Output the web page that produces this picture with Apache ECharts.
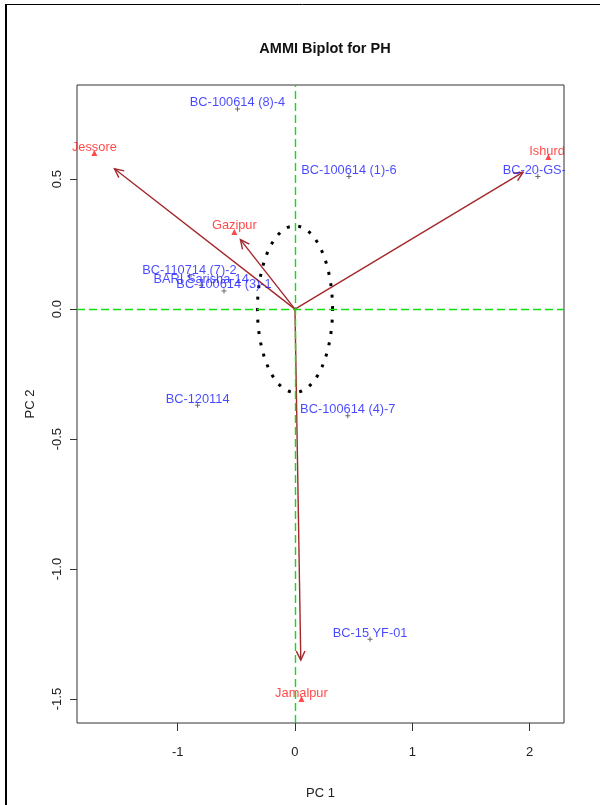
<!DOCTYPE html>
<html>
<head>
<meta charset="utf-8">
<title>AMMI Biplot for PH</title>
<script src="https://cdn.jsdelivr.net/npm/echarts@6/dist/echarts.min.js"></script>
<style>
  html, body { margin: 0; padding: 0; background: #fff; }
  #chart { width: 601px; height: 805px; }
</style>
</head>
<body>
<div id="chart"></div>
<script>
// Genotype scores on the first two interaction principal components
const genotypes = ['BC-100614 (8)-4', 'BC-100614 (1)-6', 'BC-20-GS-1', 'BC-110714 (7)-2',
  'BARI Sarisha-14', 'BC-100614 (3)-1', 'BC-120114', 'BC-100614 (4)-7', 'BC-15 YF-01'];
const genoPC1 = [-0.49, 0.46, 2.07, -0.90, -0.80, -0.605, -0.83, 0.45, 0.64];
const genoPC2 = [0.77, 0.51, 0.51, 0.127, 0.092, 0.07, -0.37, -0.41, -1.27];

// Environment scores
const environments = ['Jessore', 'Ishurdi', 'Gazipur', 'Jamalpur'];
const envPC1 = [-1.71, 2.16, -0.517, 0.055];
const envPC2 = [0.60, 0.585, 0.297, -1.50];

// Axis ticks
const xTicks = [-1, 0, 1, 2];
const yTicks = [-1.5, -1.0, -0.5, 0.0, 0.5];

// Arrows are drawn to this fraction of each environment vector
const arrowScale = 0.9;
// Radius of the dotted reference circle around the origin
const circleRadius = 0.32;

const FONT = '"Liberation Sans", Arial, sans-serif';
const BLUE = '#1c1cff';
const RED = '#ff1a1a';
const BROWN = '#a3282c';
const GREEN = '#11dd11';

const chart = echarts.init(document.getElementById('chart'), null, { renderer: 'canvas' });

const genoData = genotypes.map((g, i) => ({ name: g, value: [genoPC1[i], genoPC2[i]] }));
const envData = environments.map((e, i) => ({ name: e, value: [envPC1[i], envPC2[i]] }));

const plusSymbol = 'path://M2,0H3V2H5V3H3V5H2V3H0V2H2Z';

chart.setOption({
  animation: false,
  backgroundColor: '#fff',
  title: {
    text: 'AMMI Biplot for PH',
    left: 320, top: 36, textAlign: 'center',
    textStyle: { fontFamily: FONT, fontSize: 14.5, fontWeight: 'bold', color: '#111' }
  },
  grid: {
    left: 77, right: 37, top: 85, bottom: 82,
    show: true, borderColor: '#333', borderWidth: 1, backgroundColor: 'transparent'
  },
  xAxis: {
    type: 'value', min: -1.858, max: 2.293,
    name: 'PC 1', nameLocation: 'middle', nameGap: 64,
    nameTextStyle: { fontFamily: FONT, fontSize: 13, color: '#222' },
    axisLine: { show: false, onZero: false },
    splitLine: { show: false },
    axisTick: { show: true, inside: false, length: 8, customValues: xTicks, lineStyle: { color: '#333', width: 1 } },
    axisLabel: { customValues: xTicks, margin: 23, fontFamily: FONT, fontSize: 13, color: '#222',
      formatter: v => String(v) }
  },
  yAxis: {
    type: 'value', min: -1.592, max: 0.862,
    name: 'PC 2', nameLocation: 'middle', nameGap: 40, nameRotate: 90,
    nameTextStyle: { fontFamily: FONT, fontSize: 13, color: '#222' },
    axisLine: { show: false, onZero: false },
    splitLine: { show: false },
    axisTick: { show: true, inside: false, length: 7, customValues: yTicks, lineStyle: { color: '#333', width: 1 } },
    axisLabel: { customValues: yTicks, rotate: 90, margin: 13, fontFamily: FONT, fontSize: 13, color: '#222',
      formatter: v => v.toFixed(1) }
  },
  series: [
    {
      // dashed reference lines through the origin
      type: 'line', data: [], silent: true, z: 1,
      markLine: {
        silent: true, symbol: 'none', label: { show: false },
        lineStyle: { color: GREEN, type: [8, 4], width: 1.4 },
        data: [{ xAxis: 0 }, { yAxis: 0 }]
      }
    },
    {
      // dotted circle around the origin
      type: 'custom', silent: true, z: 2,
      data: [[0, 0]],
      renderItem: function (params, api) {
        const pts = [];
        const n = 180;
        for (let k = 0; k <= n; k++) {
          const t = (k / n) * Math.PI * 2;
          pts.push(api.coord([api.value(0) + circleRadius * Math.cos(t), api.value(1) + circleRadius * Math.sin(t)]));
        }
        return {
          type: 'polyline',
          shape: { points: pts },
          style: { stroke: '#000', fill: null, lineWidth: 3, lineDash: [3, 8.5], lineCap: 'butt' }
        };
      }
    },
    {
      // environment vectors
      type: 'custom', silent: true, z: 3,
      data: environments.map((e, i) => [envPC1[i], envPC2[i]]),
      renderItem: function (params, api) {
        const o = api.coord([0, 0]);
        const t = api.coord([api.value(0) * arrowScale, api.value(1) * arrowScale]);
        const ang = Math.atan2(t[1] - o[1], t[0] - o[0]);
        const L = 10, a = Math.PI / 7;
        const p1 = [t[0] - L * Math.cos(ang - a), t[1] - L * Math.sin(ang - a)];
        const p2 = [t[0] - L * Math.cos(ang + a), t[1] - L * Math.sin(ang + a)];
        return {
          type: 'group',
          children: [
            { type: 'line', shape: { x1: o[0], y1: o[1], x2: t[0], y2: t[1] },
              style: { stroke: BROWN, lineWidth: 1.4 } },
            { type: 'polyline', shape: { points: [p1, t, p2] },
              style: { stroke: BROWN, fill: null, lineWidth: 1.4 } }
          ]
        };
      }
    },
    {
      name: 'Genotypes', type: 'scatter', z: 4,
      symbol: plusSymbol, symbolSize: 5,
      itemStyle: { color: '#444' },
      data: genoData,
      label: {
        show: true, position: 'inside', offset: [0, -6],
        formatter: p => p.name,
        fontFamily: FONT, fontSize: 12.8, color: BLUE
      }
    },
    {
      name: 'Environments', type: 'scatter', z: 4,
      symbol: 'triangle', symbolSize: 6,
      itemStyle: { color: RED },
      data: envData,
      label: {
        show: true, position: 'inside', offset: [0, -6],
        formatter: p => p.name,
        fontFamily: FONT, fontSize: 12.8, color: RED
      }
    }
  ],
  graphic: [
    // keep labels from spilling past the right edge of the plot box
    { type: 'rect', z: 100, shape: { x: 565, y: 60, width: 30, height: 680 }, style: { fill: '#fff' } },
    // page frame
    { type: 'line', z: 101, shape: { x1: 6, y1: 4, x2: 6, y2: 805 }, style: { stroke: '#000', lineWidth: 2 } },
    { type: 'line', z: 101, shape: { x1: 5, y1: 4.5, x2: 600, y2: 4.5 }, style: { stroke: '#000', lineWidth: 1 } }
  ]
});
</script>
</body>
</html>
